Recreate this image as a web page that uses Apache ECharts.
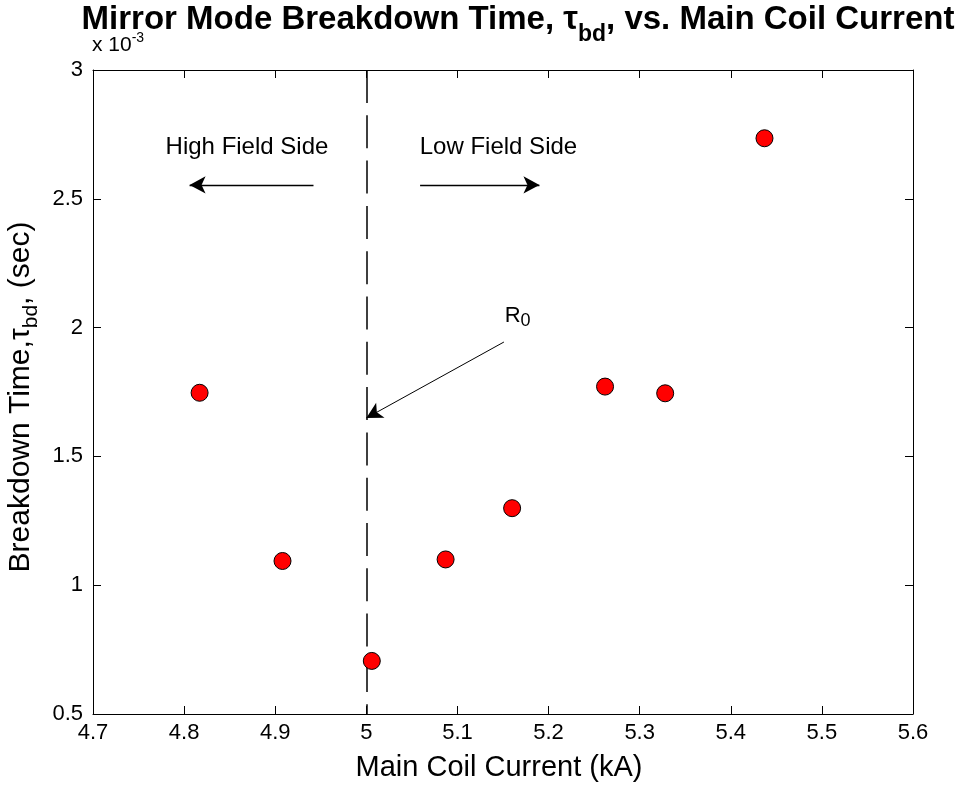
<!DOCTYPE html>
<html>
<head>
<meta charset="utf-8">
<script src="https://cdn.jsdelivr.net/npm/echarts@6/dist/echarts.min.js"></script>
<style>html,body{margin:0;padding:0;background:#fff;}#c{width:972px;height:788px;}</style>
</head>
<body>
<div id="c"></div>
<script>
// Data: main coil current (kA) vs breakdown time (units of 10^-3 s)
const currentKA = [4.817, 4.908, 5.006, 5.087, 5.160, 5.262, 5.328, 5.437];
const breakdownMs = [1.747, 1.094, 0.706, 1.100, 1.299, 1.771, 1.745, 2.735];
const xRange = [4.7, 5.6];
const xStep = 0.1;
const yRange = [0.5, 3];
const yStep = 0.5;
// Annotations (data coordinates)
const r0X = 5.0;
const highArrow = [[4.942, 2.554], [4.806, 2.554]];
const lowArrow = [[5.059, 2.554], [5.190, 2.554]];
const r0Arrow = [[5.151, 1.944], [5.0, 1.649]];
const highText = [4.869, 2.701];
const lowText = [5.145, 2.701];
const r0Text = [5.166, 2.045];

const FF = '"Liberation Sans", Arial, Helvetica, sans-serif';
const chart = echarts.init(document.getElementById('c'), null, {renderer: 'canvas'});

const fmt = v => String(Number(v.toFixed(2)));
const arrowLine = (p, w) => [
  {coord: p[0], symbol: 'none', lineStyle: {type: 'solid', width: w, color: '#000'}},
  {coord: p[1], symbol: 'arrow', symbolSize: [13, 16]}
];

chart.setOption({
  animation: false,
  backgroundColor: '#fff',
  grid: {left: 93, right: 59, top: 70, bottom: 74, containLabel: false, outerBoundsMode: 'none'},
  graphic: [
    {
      type: 'text', x: 518, y: 3, z: 10,
      style: {
        text: '{a|Mirror Mode Breakdown Time, τ}{s|bd}{a|, vs. Main Coil Current}',
        align: 'center', verticalAlign: 'top',
        rich: {
          a: {fontSize: 33, fontWeight: 'bold', fontFamily: FF, fill: '#000', lineHeight: 33, verticalAlign: 'top'},
          s: {fontSize: 23, fontWeight: 'bold', fontFamily: FF, fill: '#000', lineHeight: 23, padding: [30, 0, 0, 0]}
        }
      }
    },
    {
      type: 'text', left: 92, top: 27, z: 10,
      style: {
        text: '{a|x 10}{s|-3}',
        rich: {
          a: {fontSize: 21, fontFamily: FF, fill: '#000', lineHeight: 21, padding: [8, 0, 0, 0]},
          s: {fontSize: 14, fontFamily: FF, fill: '#000', lineHeight: 14, verticalAlign: 'top'}
        }
      }
    }
  ],
  xAxis: [
    {
      type: 'value', min: xRange[0], max: xRange[1], interval: xStep,
      position: 'bottom',
      name: 'Main Coil Current (kA)', nameLocation: 'middle', nameGap: 39,
      nameTextStyle: {fontSize: 29, fontFamily: FF, color: '#000', padding: [0, 8, 0, 0]},
      axisLine: {show: true, onZero: false, lineStyle: {color: '#000', width: 1}},
      axisTick: {show: true, inside: true, length: 8, lineStyle: {color: '#000'}},
      axisLabel: {show: true, fontSize: 22, fontFamily: FF, color: '#000', margin: 8, formatter: fmt},
      splitLine: {show: false}
    },
    {
      type: 'value', min: xRange[0], max: xRange[1], interval: xStep,
      position: 'top',
      axisLine: {show: true, onZero: false, lineStyle: {color: '#000', width: 1}},
      axisTick: {show: true, inside: true, length: 8, lineStyle: {color: '#000'}},
      axisLabel: {show: false},
      splitLine: {show: false}
    }
  ],
  yAxis: [
    {
      type: 'value', min: yRange[0], max: yRange[1], interval: yStep,
      position: 'left',
      name: '{a|Breakdown Time,τ}{s|bd}{a|, (sec)}', nameLocation: 'middle', nameGap: 52,
      nameTextStyle: {
        fontFamily: FF, color: '#000', padding: [0, 10, 0, 0],
        rich: {
          a: {fontSize: 30, fontFamily: FF, color: '#000', lineHeight: 30, verticalAlign: 'top'},
          s: {fontSize: 21, fontFamily: FF, color: '#000', lineHeight: 21, padding: [20, 0, 0, 0]}
        }
      },
      axisLine: {show: true, onZero: false, lineStyle: {color: '#000', width: 1}},
      axisTick: {show: true, inside: true, length: 8, lineStyle: {color: '#000'}},
      axisLabel: {show: true, fontSize: 22, fontFamily: FF, color: '#000', margin: 10, formatter: fmt},
      splitLine: {show: false}
    },
    {
      type: 'value', min: yRange[0], max: yRange[1], interval: yStep,
      position: 'right',
      axisLine: {show: true, onZero: false, lineStyle: {color: '#000', width: 1}},
      axisTick: {show: true, inside: true, length: 8, lineStyle: {color: '#000'}},
      axisLabel: {show: false},
      splitLine: {show: false}
    }
  ],
  series: [
    {
      type: 'scatter', xAxisIndex: 0, yAxisIndex: 0, z: 5,
      data: currentKA.map((x, i) => [x, breakdownMs[i]]),
      symbol: 'circle', symbolSize: 17,
      itemStyle: {color: '#ff0000', borderColor: '#000', borderWidth: 1, opacity: 1}
    },
    {
      type: 'line', xAxisIndex: 0, yAxisIndex: 0, data: [], z: 3,
      markLine: {
        silent: true, animation: false,
        symbol: ['none', 'none'],
        label: {show: false},
        emphasis: {disabled: true},
        data: [
          [{coord: [r0X, yRange[1]], lineStyle: {type: [33, 12.3], width: 1.5, color: '#000'}},
           {coord: [r0X, yRange[0]]}],
          arrowLine(highArrow, 1.3),
          arrowLine(lowArrow, 1.3),
          arrowLine(r0Arrow, 1)
        ]
      },
      markPoint: {
        silent: true, animation: false,
        symbol: 'circle', symbolSize: 0,
        itemStyle: {color: 'transparent'},
        label: {show: true, position: 'inside', color: '#000', fontFamily: FF, fontSize: 24},
        data: [
          {coord: highText, value: 'High Field Side', label: {formatter: 'High Field Side'}},
          {coord: lowText, value: 'Low Field Side', label: {formatter: 'Low Field Side'}},
          {coord: r0Text, value: 'R0', label: {
            formatter: '{a|R}{s|0}',
            rich: {
              a: {fontSize: 22, fontFamily: FF, color: '#000', lineHeight: 22, verticalAlign: 'top'},
              s: {fontSize: 18, fontFamily: FF, color: '#000', lineHeight: 18, padding: [10, 0, 0, 0]}
            }
          }}
        ]
      }
    }
  ]
});
</script>
</body>
</html>
